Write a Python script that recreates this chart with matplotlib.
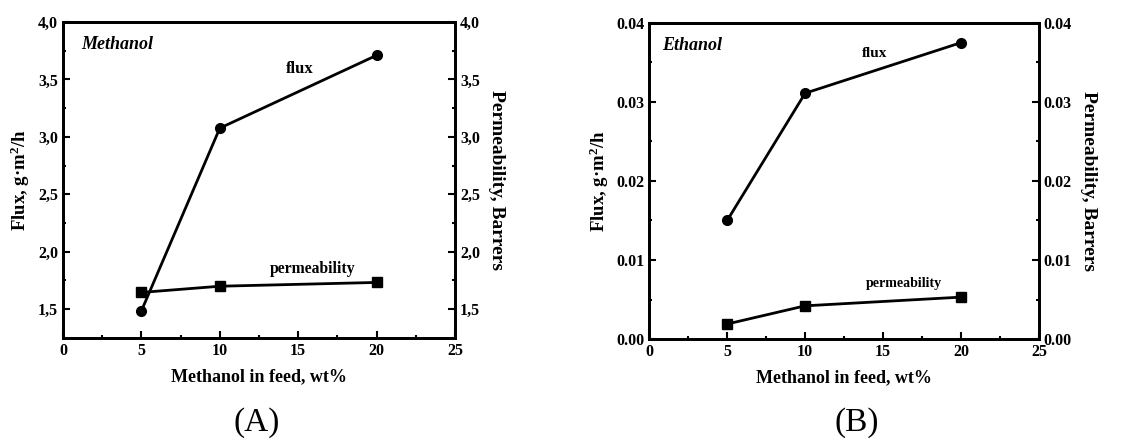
import matplotlib
matplotlib.use("Agg")
import matplotlib.pyplot as plt
from matplotlib.ticker import MultipleLocator, FuncFormatter

plt.rcParams['font.family'] = ['Liberation Serif', 'DejaVu Serif']
plt.rcParams['font.weight'] = 'bold'
plt.rcParams['mathtext.default'] = 'regular'

feed = [5, 10, 20]
meth_flux = [1.485, 3.076, 3.71]
meth_perm = [1.646, 1.70, 1.733]
eth_flux = [0.0150, 0.0311, 0.0375]
eth_perm = [0.0019, 0.0042, 0.0053]

fig = plt.figure(figsize=(11.43, 4.4), dpi=100)

def setup(ax, rect, flux, perm, ylim, major, minor, fmt, name, name_x, flux_xy, perm_xy,
          flux_fs, perm_fs, letter, letter_x):
    ax.set_position(rect)
    ax.plot(feed, flux, color='black', lw=2, marker='o', ms=7)
    ax.plot(feed, perm, color='black', lw=2, marker='s', ms=7)
    ax.set_xlim(0, 25)
    ax.set_ylim(*ylim)
    ax.xaxis.set_major_locator(MultipleLocator(5))
    ax.xaxis.set_minor_locator(MultipleLocator(2.5))
    ax.yaxis.set_major_locator(MultipleLocator(major))
    ax.yaxis.set_minor_locator(MultipleLocator(minor))
    ax.yaxis.set_major_formatter(FuncFormatter(fmt))
    for s in ax.spines.values():
        s.set_linewidth(2)
    ax.tick_params(which='both', direction='in', width=1.5, labelsize=11.5, top=False)
    ax.tick_params(which='major', length=5)
    ax.tick_params(which='minor', length=2.5)
    ax.set_xlabel('Methanol in feed, wt%', fontsize=13, fontweight='bold', labelpad=7)
    ax.set_ylabel('Flux, g·m$^2$/h', fontsize=13.5, fontweight='bold')
    ax2 = ax.twinx()
    ax2.set_position(rect)
    ax2.set_ylim(*ylim)
    ax2.yaxis.set_major_locator(MultipleLocator(major))
    ax2.yaxis.set_minor_locator(MultipleLocator(minor))
    ax2.yaxis.set_major_formatter(FuncFormatter(fmt))
    ax2.tick_params(which='both', direction='in', width=1.5, labelsize=11.5)
    ax2.tick_params(which='major', length=5)
    ax2.tick_params(which='minor', length=2.5)
    ax2.set_ylabel('Permeability, Barrers', fontsize=14, fontweight='bold', rotation=270, labelpad=18)
    for s in ax2.spines.values():
        s.set_linewidth(2)
    ax.text(name_x, 0.93, name, transform=ax.transAxes, fontsize=13, fontweight='bold',
            style='italic', va='center', ha='left')
    ax.text(flux_xy[0], flux_xy[1], 'flux', transform=ax.transAxes, fontsize=flux_fs,
            fontweight='bold', ha='center', va='center')
    ax.text(perm_xy[0], perm_xy[1], 'permeability', transform=ax.transAxes, fontsize=perm_fs,
            fontweight='bold', ha='center', va='center')
    fig.text(letter_x, 0.04, letter, fontsize=24, fontweight='normal', ha='center', va='center')

rectA = [0.0551, 0.232, 0.343, 0.718]
axA = fig.add_axes(rectA)
setup(axA, rectA, meth_flux, meth_perm, (1.25, 4.0), 0.5, 0.25,
      lambda v, p: f'{v:.1f}'.replace('.', ','), 'Methanol', 0.046,
      (0.605, 0.85), (0.638, 0.217), 12, 11.3, '(A)', 0.2248)

rectB = [0.568, 0.2295, 0.341, 0.7185]
axB = fig.add_axes(rectB)
setup(axB, rectB, eth_flux, eth_perm, (0.0, 0.04), 0.01, 0.005,
      lambda v, p: f'{v:.2f}', 'Ethanol', 0.033,
      (0.578, 0.903), (0.654, 0.176), 11, 10, '(B)', 0.75)

fig.savefig('out.png', dpi=100)
